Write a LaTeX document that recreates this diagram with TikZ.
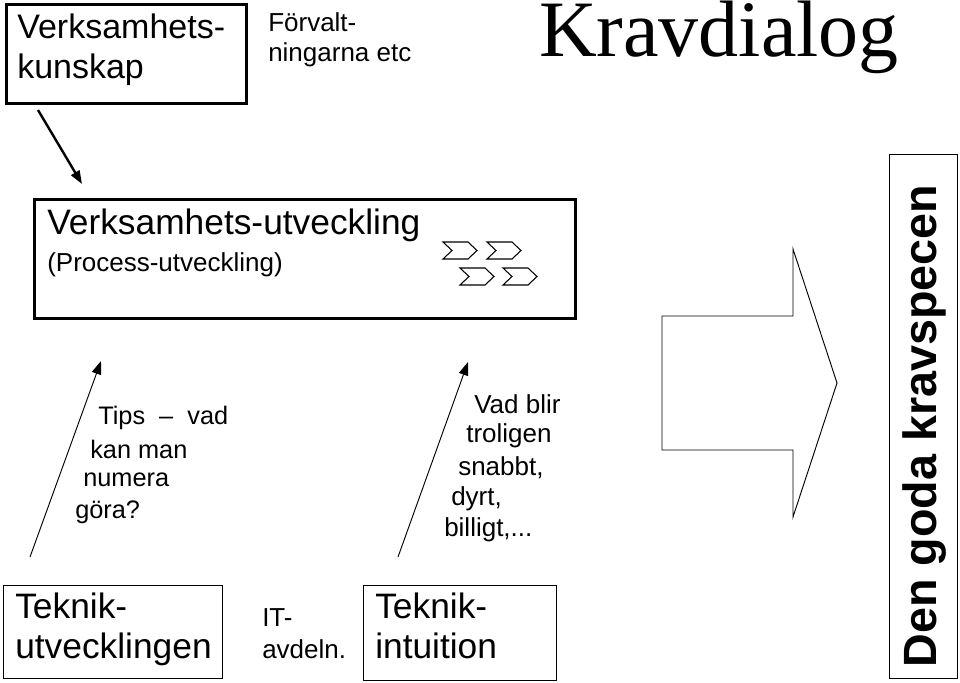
\documentclass[tikz,border=0pt]{standalone}
\usepackage{fontspec}
\setmainfont{Liberation Sans}
\newfontfamily\timesfont{Liberation Serif}
\usetikzlibrary{arrows.meta}
\usetikzlibrary{positioning}

\begin{document}
\begin{tikzpicture} [x=0.75pt,y=-0.75pt,
		thickbox/.style={draw,line width=2.2pt,inner sep=0pt},
		thinbox/.style={draw,line width=0.8pt,inner sep=0pt},
		txt/.style={inner sep=0pt,align=left},
		pointer/.style={line width=0.7pt,-{Triangle[length=3.5mm,width=2.5mm]}},
		chev/.style={line width=0.8pt,fill=white}]
		
		\useasboundingbox (0,0) rectangle (960,682);
		
		% boxes
		\node[thickbox,minimum width=180pt,minimum height=74pt,anchor=north west] (kunskap) at (5,3) {};
		\node[thickbox,minimum width=406pt,minimum height=89pt,anchor=north west] (utv) at (33,198) {};
		\node[thinbox,minimum width=164pt,minimum height=70pt,anchor=north west] (teknik) at (3,585) {};
		\node[thinbox,minimum width=145pt,minimum height=71pt,anchor=north west] (intuition) at (363,585) {};
		\node[thinbox,minimum width=51pt,minimum height=393pt,anchor=north west] (spec) at (889,154) {};
		
		% texts
		\node[txt,anchor=north west,font=\fontsize{25.5}{30}\selectfont] (kunskaptxt) at (17,14) {Verksamhets-\\kunskap};
		\node[txt,anchor=north west,font=\fontsize{19.5}{23}\selectfont] (forv) at (268,12) {Förvalt-\\ningarna etc};
		\node[txt,anchor=north,font=\timesfont\fontsize{60}{60}\selectfont] (title) at (719,1) {Kravdialog};
		\node[txt,anchor=north west,font=\fontsize{26.5}{28}\selectfont] (utvtxt) at (47,209) {Verksamhets-utveckling};
		\node[txt,anchor=north west,font=\fontsize{19.5}{22}\selectfont] (proc) at (47,252) {(Process-utveckling)};
		\node[txt,anchor=north west,font=\fontsize{26.5}{30}\selectfont] (tekniktxt) at (15,593) {Teknik-\\utvecklingen};
		\node[txt,anchor=north west,font=\fontsize{19.5}{24}\selectfont] (it) at (262,608) {IT-\\avdeln.};
		\node[txt,anchor=north west,font=\fontsize{26.5}{30}\selectfont] (intuitiontxt) at (375,593) {Teknik-\\intuition};
		\node[rotate=90,font=\bfseries\fontsize{35}{35}\selectfont,inner sep=0pt] (spectxt) at (925,426) {Den goda kravspecen};
		
		% slanted notes
		\foreach \t/\x/\y in {Tips\ \ --\ \ vad/98/418, kan man/90/449, numera/83/480, göra?/75/512}
		\node[txt,anchor=west,font=\fontsize{19}{20}\selectfont] at (\x,\y) {\t};
		\foreach \t/\x/\y in {Vad blir/474/404, troligen/466/436, {snabbt,}/458/468, {dyrt,}/451/499, {billigt,...}/444/530}
		\node[txt,anchor=west,font=\fontsize{19.5}{20}\selectfont] at (\x,\y) {\t};
		
		% arrows
		\coordinate (k1) at (38,110);
		\coordinate (k2) at (82,184);
		\draw[pointer,line width=1.8pt] (k1) -- (k2);
		\coordinate (t1) at (30,557);
		\coordinate (t2) at (101,361);
		\draw[pointer] (t1) -- (t2);
		\coordinate (v1) at (398,557);
		\coordinate (v2) at (468,362);
		\draw[pointer] (v1) -- (v2);
		
		% chevrons
		\foreach \x/\y in {443/242, 487/242, 460/268, 503/268}
		\draw[chev] (\x,\y) -- ++(25,0) -- ++(9,8.5) -- ++(-9,8.5) -- ++(-25,0) -- ++(9,-8.5) -- cycle;
		
		% big arrow
		\draw[line width=0.7pt] (662,316) -- (793,316) -- (793,249) -- (837,383) -- (793,517) -- (793,450) -- (662,450) -- cycle;
		
	\end{tikzpicture}
\end{document}
